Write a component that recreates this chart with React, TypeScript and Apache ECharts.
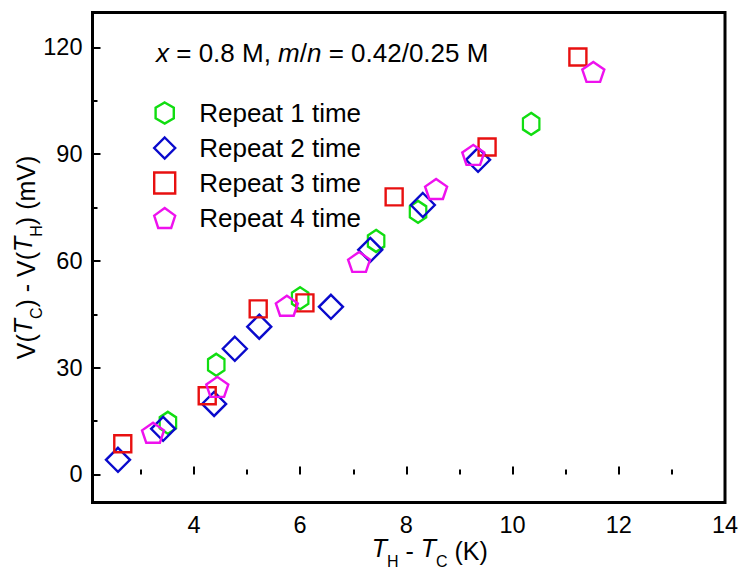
import React, { useEffect, useRef } from "react";
import * as echarts from "echarts";

// ---- data ----
const repeat1X = [3.51, 4.42, 6.0, 7.43, 8.22, 10.35];
const repeat1Y = [14.5, 30.8, 49.5, 65.6, 73.8, 98.5];
const repeat2X = [2.57, 3.42, 4.38, 4.77, 5.23, 6.58, 7.32, 8.31, 9.35];
const repeat2Y = [4.1, 12.8, 19.8, 35.3, 41.5, 47.1, 63.1, 75.7, 88.4];
const repeat3X = [2.66, 4.25, 5.21, 6.09, 7.77, 9.52, 11.23];
const repeat3Y = [8.6, 22.1, 46.5, 48.2, 78.0, 92.0, 117.3];
const repeat4X = [3.23, 4.44, 5.75, 7.11, 8.56, 9.26, 11.52];
const repeat4Y = [11.7, 24.6, 47.4, 59.7, 80.2, 89.8, 113.1];

const seriesNames = ["Repeat 1 time", "Repeat 2 time", "Repeat 3 time", "Repeat 4 time"];

const xMajorTicks = [4, 6, 8, 10, 12];
const xLabelTicks = [4, 6, 8, 10, 12, 14];
const xMinorTicks = [3, 5, 7, 9, 11, 13];
const yMajorTicks = [0, 30, 60, 90, 120];
const yMinorTicks = [15, 45, 75, 105];

const FONT = "'Liberation Sans', Arial, Helvetica, sans-serif";

const HEX_PATH = "path://M0,-1 L0.866,-0.5 L0.866,0.5 L0,1 L-0.866,0.5 L-0.866,-0.5 Z";
const PENT_PATH = "path://M0,-1 L0.951,-0.309 L0.588,0.809 L-0.588,0.809 L-0.951,-0.309 Z";

const zip = (xs: number[], ys: number[]) => xs.map((x, i) => [x, ys[i]]);

export default function App() {
  const ref = useRef<HTMLDivElement>(null);

  useEffect(() => {
    if (!ref.current) return;
    const chart = echarts.init(ref.current, null, { renderer: "svg" });

    const mk = (name: string, data: number[][], symbol: string, size: any, color: string) => ({
      type: "scatter",
      name,
      data,
      symbol,
      symbolSize: size,
      symbolKeepAspect: true,
      xAxisIndex: 0,
      yAxisIndex: 0,
      itemStyle: { color: "rgba(255,255,255,0)", borderColor: color, borderWidth: 2.4, opacity: 1 },
      emphasis: { disabled: true },
    });

    const richName = {
      i: { fontStyle: "italic", fontSize: 25, lineHeight: 30, verticalAlign: "top", fontFamily: FONT, color: "#000" },
      n: { fontSize: 25, lineHeight: 30, verticalAlign: "top", fontFamily: FONT, color: "#000" },
      s: { fontSize: 16, lineHeight: 16, padding: [18, 0, 0, 0], verticalAlign: "top", fontFamily: FONT, color: "#000" },
    };

    const option: any = {
      animation: false,
      backgroundColor: "#fff",
      title: {
        text: "{i|x} = 0.8 M, {i|m}/{i|n} = 0.42/0.25 M",
        left: 156,
        top: 40,
        padding: 0,
        textStyle: {
          fontSize: 26,
          fontWeight: "normal",
          color: "#000",
          fontFamily: FONT,
          rich: {
            i: { fontStyle: "italic", fontSize: 26, color: "#000", fontFamily: FONT },
          },
        },
      },
      legend: {
        data: seriesNames,
        orient: "vertical",
        left: 153,
        top: 100,
        itemWidth: 21,
        itemHeight: 21,
        itemGap: 9,
        symbolKeepAspect: true,
        padding: 0,
        itemStyle: { borderWidth: 2.4 },
        textStyle: { fontSize: 26, lineHeight: 25, color: "#000", fontFamily: FONT, padding: [0, 0, 0, 19] },
        selectedMode: false,
      },
      grid: {
        left: 92.5,
        top: 12.5,
        width: 632.5,
        height: 490,
        show: true,
        borderColor: "#000",
        borderWidth: 3,
        backgroundColor: "transparent",
        containLabel: false,
        outerBoundsMode: "none",
      },
      xAxis: [
        {
          type: "value",
          min: 2.09,
          max: 14,
          position: "bottom",
          splitLine: { show: false },
          axisLine: { show: false },
          axisTick: { show: true, inside: true, length: 8, lineStyle: { color: "#000", width: 2 }, customValues: xMajorTicks },
          axisLabel: { show: true, customValues: xLabelTicks, fontSize: 23.5, margin: 10, color: "#000", fontFamily: FONT },
          name: "{i|T}{s|H} - {i|T}{s|C} (K)",
          nameLocation: "middle",
          nameGap: 33,
          nameMoveOverlap: false,
          nameTextStyle: { padding: [0, 0, 0, 42], rich: richName, fontSize: 25, fontFamily: FONT, color: "#000" },
        },
        {
          type: "value",
          min: 2.09,
          max: 14,
          position: "bottom",
          splitLine: { show: false },
          axisLine: { show: false },
          axisLabel: { show: false },
          axisTick: { show: true, inside: true, length: 5, lineStyle: { color: "#000", width: 2 }, customValues: xMinorTicks },
        },
      ],
      yAxis: [
        {
          type: "value",
          min: -7.9,
          max: 129.8,
          position: "left",
          splitLine: { show: false },
          axisLine: { show: false },
          axisTick: { show: true, inside: true, length: 8, lineStyle: { color: "#000", width: 2 }, customValues: yMajorTicks },
          axisLabel: { show: true, customValues: yMajorTicks, fontSize: 23.5, margin: 10, color: "#000", fontFamily: FONT },
          name: "V({i|T}{s|C}) - V({i|T}{s|H}) (mV)",
          nameLocation: "middle",
          nameRotate: 90,
          nameGap: 52,
          nameMoveOverlap: false,
          nameTextStyle: { rich: richName, fontSize: 25, fontFamily: FONT, color: "#000" },
        },
        {
          type: "value",
          min: -7.9,
          max: 129.8,
          position: "left",
          splitLine: { show: false },
          axisLine: { show: false },
          axisLabel: { show: false },
          axisTick: { show: true, inside: true, length: 5, lineStyle: { color: "#000", width: 2 }, customValues: yMinorTicks },
        },
      ],
      series: [
        mk(seriesNames[0], zip(repeat1X, repeat1Y), HEX_PATH, [19, 22], "#11dd11"),
        mk(seriesNames[1], zip(repeat2X, repeat2Y), "diamond", 24, "#0a0acc"),
        mk(seriesNames[2], zip(repeat3X, repeat3Y), "rect", 17, "#e81010"),
        mk(seriesNames[3], zip(repeat4X, repeat4Y), PENT_PATH, [22, 21], "#ee11ee"),
      ],
    };

    chart.setOption(option);
    return () => chart.dispose();
  }, []);

  return (
    <div
      ref={ref}
      style={{ position: "fixed", left: 0, top: 0, width: 741, height: 573, background: "#fff" }}
    />
  );
}
